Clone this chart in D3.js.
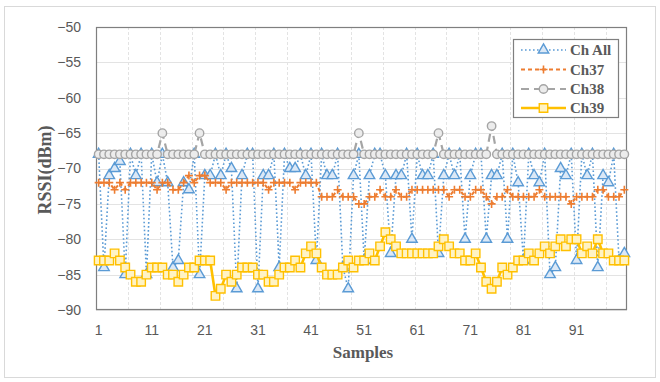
<!DOCTYPE html>
<html>
<head>
<meta charset="utf-8">
<script src="https://cdn.jsdelivr.net/npm/d3@7/dist/d3.min.js"></script>
<style>
  html, body { margin: 0; padding: 0; background: #fff; }
  svg { display: block; }
</style>
</head>
<body>
<svg id="chart" width="660" height="382"></svg>
<script>
// RSSI per sample for the combined channel and the three advertising channels
const samples = d3.range(1, 101);

const chAll = [
  -68, -84, -71, -70, -69, -85, -68, -71, -68, -85,
  -68, -72, -68, -72, -84, -83, -72, -73, -68, -85,
  -71, -71, -68, -71, -68, -70, -87, -71, -68, -68,
  -87, -71, -71, -68, -84, -68, -70, -70, -68, -71,
  -68, -83, -68, -71, -71, -68, -84, -87, -71, -68,
  -83, -71, -68, -68, -71, -82, -71, -71, -68, -80,
  -68, -71, -71, -68, -82, -71, -68, -71, -68, -80,
  -71, -68, -68, -80, -71, -71, -68, -80, -68, -72,
  -83, -68, -71, -72, -68, -85, -84, -70, -71, -68,
  -83, -68, -71, -68, -84, -71, -72, -68, -83, -82
];

const ch37 = [
  -72, -72, -72, -73, -72, -73, -72, -72, -72, -72,
  -72, -73, -72, -72, -73, -73, -72, -71, -72, -71,
  -71, -72, -72, -72, -73, -72, -72, -72, -72, -72,
  -72, -72, -73, -72, -72, -72, -72, -73, -72, -72,
  -72, -72, -74, -74, -74, -73, -74, -74, -74, -75,
  -75, -74, -74, -73, -74, -74, -73, -74, -74, -73,
  -73, -73, -73, -73, -73, -73, -74, -73, -73, -74,
  -74, -73, -73, -74, -75, -74, -74, -73, -74, -74,
  -74, -74, -74, -73, -74, -74, -74, -74, -74, -75,
  -74, -74, -74, -74, -73, -73, -74, -74, -74, -73
];

const ch38 = [
  -68, -68, -68, -68, -68, -68, -68, -68, -68, -68,
  -68, -68, -65, -68, -68, -68, -68, -68, -68, -65,
  -68, -68, -68, -68, -68, -68, -68, -68, -68, -68,
  -68, -68, -68, -68, -68, -68, -68, -68, -68, -68,
  -68, -68, -68, -68, -68, -68, -68, -68, -68, -65,
  -68, -68, -68, -68, -68, -68, -68, -68, -68, -68,
  -68, -68, -68, -68, -65, -68, -68, -68, -68, -68,
  -68, -68, -68, -68, -64, -68, -68, -68, -68, -68,
  -68, -68, -68, -68, -68, -68, -68, -68, -68, -68,
  -68, -68, -68, -68, -68, -68, -68, -68, -68, -68
];

const ch39 = [
  -83, -83, -83, -82, -83, -84, -85, -86, -86, -85,
  -84, -84, -84, -85, -85, -86, -85, -84, -84, -83,
  -83, -83, -88, -87, -85, -86, -85, -84, -84, -84,
  -85, -85, -86, -86, -85, -84, -84, -83, -84, -82,
  -81, -82, -84, -85, -85, -85, -84, -83, -84, -83,
  -83, -82, -83, -81, -79, -80, -81, -82, -82, -82,
  -82, -82, -82, -82, -81, -80, -81, -82, -82, -83,
  -83, -82, -84, -86, -87, -86, -84, -85, -84, -83,
  -83, -82, -83, -82, -81, -82, -81, -80, -81, -80,
  -80, -82, -81, -82, -80, -82, -82, -83, -83, -83
];

const yTicks = [-50, -55, -60, -65, -70, -75, -80, -85, -90];
const xTickLabels = [1, 11, 21, 31, 41, 51, 61, 71, 81, 91];
const seriesNames = ["Ch All", "Ch37", "Ch38", "Ch39"];

const svg = d3.select("#chart");
const plot = { left: 96, right: 627, top: 27, bottom: 310 };

// chart frame
svg.append("rect")
  .attr("x", 4.5).attr("y", 6.5).attr("width", 651).attr("height", 371)
  .attr("fill", "#fff").attr("stroke", "#d9d9d9");

const x = d3.scaleBand().domain(samples).range([plot.left, plot.right]);
const cx = d => x(d) + x.bandwidth() / 2;
const y = d3.scaleLinear().domain([-90, -50]).range([plot.bottom, plot.top]);

// grid
const grid = svg.append("g");
grid.selectAll("line.h").data(yTicks).join("line")
  .attr("x1", plot.left).attr("x2", plot.right)
  .attr("y1", d => Math.round(y(d)) + 0.5).attr("y2", d => Math.round(y(d)) + 0.5)
  .attr("stroke", "#e3e3e3");
grid.selectAll("line.v").data(d3.range(6, 100, 6)).join("line")
  .attr("x1", d => Math.round(x(d + 1)) + 0.5).attr("x2", d => Math.round(x(d + 1)) + 0.5)
  .attr("y1", plot.top).attr("y2", plot.bottom)
  .attr("stroke", "#e3e3e3").attr("stroke-dasharray", "3,2");

// plot border
svg.append("rect")
  .attr("x", plot.left + 0.5).attr("y", plot.top + 0.5)
  .attr("width", plot.right - plot.left - 1).attr("height", plot.bottom - plot.top - 1)
  .attr("fill", "none").attr("stroke", "#7f7f7f").attr("stroke-width", 1.2);

// axes
const yAxis = svg.append("g")
  .attr("transform", `translate(${plot.left - 12},0)`)
  .call(d3.axisLeft(y).tickValues(yTicks).tickSize(0).tickFormat(d3.format("d")));
yAxis.select(".domain").remove();
yAxis.selectAll("text")
  .attr("font-family", "Liberation Sans, Arial, sans-serif")
  .attr("font-size", 14).attr("fill", "#595959");

const xAxis = svg.append("g")
  .attr("transform", `translate(0,${plot.bottom + 12})`)
  .call(d3.axisBottom(x).tickValues(xTickLabels).tickSize(0));
xAxis.select(".domain").remove();
xAxis.selectAll("text")
  .attr("font-family", "Liberation Sans, Arial, sans-serif")
  .attr("font-size", 14).attr("fill", "#595959");

svg.append("text")
  .attr("x", 363).attr("y", 358).attr("text-anchor", "middle")
  .attr("font-family", "Liberation Serif, Times New Roman, serif")
  .attr("font-weight", "bold").attr("font-size", 17).attr("fill", "#595959")
  .text("Samples");
svg.append("text")
  .attr("transform", "translate(51,170) rotate(-90)").attr("text-anchor", "middle")
  .attr("font-family", "Liberation Serif, Times New Roman, serif")
  .attr("font-weight", "bold").attr("font-size", 18).attr("fill", "#595959")
  .text("RSSI(dBm)");

// series styles
const styles = [
  { values: chAll, color: "#5b9bd5", width: 1.6, dash: "1.6,2.4", marker: "triangle", fill: "#dbe8f6" },
  { values: ch37,  color: "#ed7d31", width: 2,   dash: "4,3",     marker: "plus",     fill: "none" },
  { values: ch38,  color: "#a5a5a5", width: 2.2, dash: "8,5",     marker: "circle",   fill: "#ececec" },
  { values: ch39,  color: "#ffc000", width: 2.6, dash: null,      marker: "square",   fill: "#fff3c4" }
];

const symbolFor = {
  triangle: d3.symbol().type(d3.symbolTriangle).size(48),
  circle: d3.symbol().type(d3.symbolCircle).size(56),
  square: d3.symbol().type(d3.symbolSquare).size(72),
  plus: d3.symbol().type(d3.symbolCross).size(50)
};

function drawMarker(g, s, px, py) {
  if (s.marker === "plus") {
    g.append("path")
      .attr("d", `M${px - 4},${py}H${px + 4}M${px},${py - 4}V${py + 4}`)
      .attr("stroke", s.color).attr("stroke-width", 1.6).attr("fill", "none");
  } else {
    g.append("path")
      .attr("transform", `translate(${px},${py})`)
      .attr("d", symbolFor[s.marker]())
      .attr("fill", s.fill).attr("stroke", s.color).attr("stroke-width", 1.4);
  }
}

const line = d3.line().x((d, i) => cx(samples[i])).y(d => y(d));

styles.forEach(s => {
  const g = svg.append("g");
  g.append("path")
    .attr("d", line(s.values))
    .attr("fill", "none").attr("stroke", s.color)
    .attr("stroke-width", s.width)
    .attr("stroke-dasharray", s.dash)
    .attr("stroke-linejoin", "round");
  s.values.forEach((v, i) => drawMarker(g, s, cx(samples[i]), y(v)));
});

// legend
const lg = svg.append("g");
lg.append("rect")
  .attr("x", 513.5).attr("y", 39.5).attr("width", 105).attr("height", 78)
  .attr("fill", "#fff").attr("stroke", "#7f7f7f").attr("stroke-width", 1.2);
const rowY = [50, 69.5, 89, 108];
styles.forEach((s, i) => {
  const ly = rowY[i];
  lg.append("line")
    .attr("x1", 521).attr("x2", 566).attr("y1", ly).attr("y2", ly)
    .attr("stroke", s.color).attr("stroke-width", s.width)
    .attr("stroke-dasharray", s.dash);
  drawMarker(lg, s, 543.5, ly);
  lg.append("text")
    .attr("x", 570).attr("y", ly + 5)
    .attr("font-family", "Liberation Serif, Times New Roman, serif")
    .attr("font-weight", "bold").attr("font-size", 15).attr("fill", "#595959")
    .text(seriesNames[i]);
});
</script>
</body>
</html>
